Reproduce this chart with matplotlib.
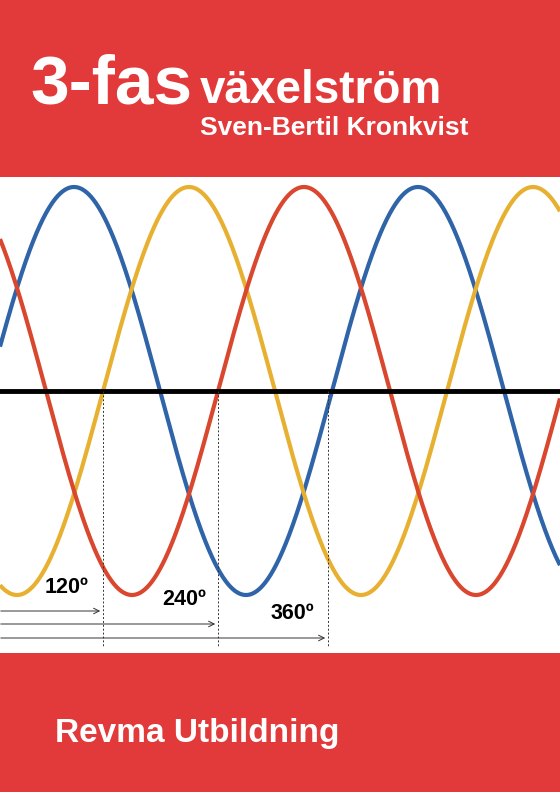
import matplotlib
matplotlib.use("Agg")
import matplotlib.pyplot as plt
import numpy as np

# cover layout in pixels (y down)
W, H = 560, 792
red = "#e23a3a"

# phases: colour, x of first peak (px)
phase_colors = ["#2f64a8", "#e8b030", "#d9472e"]
phase_peaks = [74, 189, 304]
period = 344
center_y = 391
amp = 204

# angle markers
angle_labels = ["120º", "240º", "360º"]
angle_x = [103, 218, 328]
arrow_y = [611, 624, 638]
label_pos = [(67, 598), (184, 610), (292, 624)]

fig = plt.figure(figsize=(5.6, 7.92), dpi=100)
ax = fig.add_axes([0, 0, 1, 1])
ax.set_xlim(0, W)
ax.set_ylim(H, 0)
ax.axis("off")

ax.axhspan(0, 177, color=red, lw=0)
ax.axhspan(653, H, color=red, lw=0)

x = np.linspace(0, W, 1000)
for c, p in zip(phase_colors, phase_peaks):
    y = center_y - amp * np.cos(2 * np.pi * (x - p) / period)
    ax.plot(x, y, color=c, lw=3, solid_capstyle="butt")

ax.plot([0, W], [center_y, center_y], color="black", lw=3.5)

for lab, xa, ya, (lx, ly) in zip(angle_labels, angle_x, arrow_y, label_pos):
    ax.plot([xa, xa], [center_y, 646], color="#333333", lw=0.7, ls=(0, (2, 2)))
    ax.annotate("", xy=(xa, ya), xytext=(-2, ya),
                arrowprops=dict(arrowstyle="->", color="#333333", lw=0.7))
    ax.text(lx, ly, lab, fontsize=15.5, fontweight="bold", ha="center",
            va="bottom", family="Liberation Sans")

ax.text(30, 103, "3-fas", color="white", fontsize=50, fontweight="bold",
        family="Liberation Sans", va="baseline")
ax.text(200, 103, "växelström", color="white", fontsize=33, fontweight="bold",
        family="Liberation Sans", va="baseline")
ax.text(468, 135, "Sven-Bertil Kronkvist", color="white", fontsize=19,
        fontweight="bold", family="Liberation Sans", va="baseline", ha="right")
ax.text(55, 742, "Revma Utbildning", color="white", fontsize=24,
        fontweight="bold", family="Liberation Sans", va="baseline")

fig.savefig("out.png", dpi=100)
